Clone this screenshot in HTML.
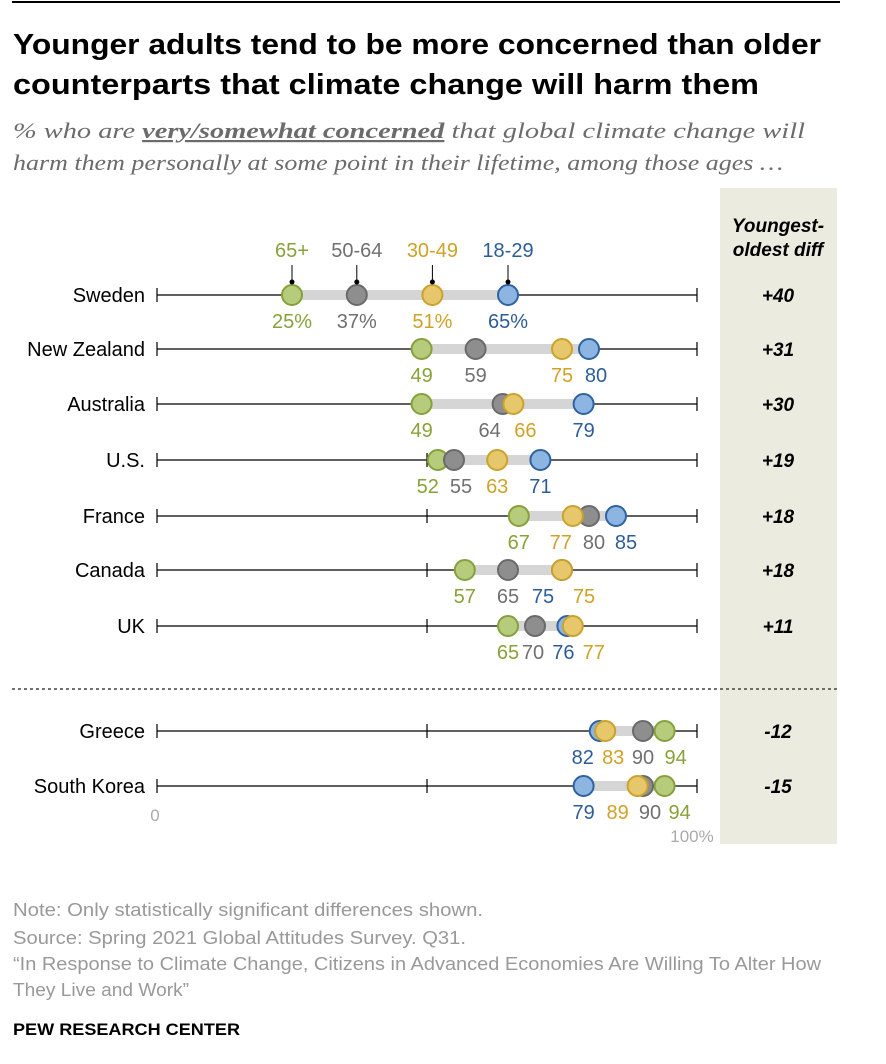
<!DOCTYPE html>
<html><head><meta charset="utf-8"><style>
body{margin:0;background:#fff;}
svg{display:block;font-family:"Liberation Sans",sans-serif;}
</style></head><body>
<svg id="chart" width="886" height="1064" viewBox="0 0 886 1064" xmlns="http://www.w3.org/2000/svg">
<line x1="12" y1="2" x2="840" y2="2" stroke="#000" stroke-width="2"/>
<text x="13" y="54" font-size="29" font-weight="bold" textLength="808" lengthAdjust="spacingAndGlyphs">Younger adults tend to be more concerned than older</text>
<text x="13" y="94" font-size="29" font-weight="bold" textLength="746" lengthAdjust="spacingAndGlyphs">counterparts that climate change will harm them</text>
<text x="13" y="138" font-size="22" font-style="italic" fill="#6b6b6b" font-family="Liberation Serif, serif" textLength="792" lengthAdjust="spacingAndGlyphs">% who are <tspan font-weight="bold" text-decoration="underline">very/somewhat concerned</tspan> that global climate change will</text>
<text x="13" y="170" font-size="22" font-style="italic" fill="#6b6b6b" font-family="Liberation Serif, serif" textLength="770" lengthAdjust="spacingAndGlyphs">harm them personally at some point in their lifetime, among those ages …</text>
<rect x="720" y="188" width="117" height="656" fill="#ecebe0"/>
<text x="778" y="232" font-size="19" font-weight="bold" font-style="italic" text-anchor="middle">Youngest-</text>
<text x="778" y="256" font-size="19" font-weight="bold" font-style="italic" text-anchor="middle">oldest diff</text>
<line x1="12" y1="689" x2="840" y2="689" stroke="#444" stroke-width="1.5" stroke-dasharray="3,3"/>
<text x="155" y="821" font-size="17" fill="#aaa" text-anchor="middle">0</text>
<text x="692" y="842" font-size="17" fill="#aaa" text-anchor="middle">100%</text>
<text x="13" y="916" font-size="18" fill="#999" textLength="470" lengthAdjust="spacingAndGlyphs">Note: Only statistically significant differences shown.</text>
<text x="13" y="944" font-size="18" fill="#999" textLength="453" lengthAdjust="spacingAndGlyphs">Source: Spring 2021 Global Attitudes Survey. Q31.</text>
<text x="13" y="970" font-size="18" fill="#999" textLength="808" lengthAdjust="spacingAndGlyphs">“In Response to Climate Change, Citizens in Advanced Economies Are Willing To Alter How</text>
<text x="13" y="996" font-size="18" fill="#999" textLength="176" lengthAdjust="spacingAndGlyphs">They Live and Work”</text>
<text x="13" y="1035" font-size="17" font-weight="bold" textLength="227" lengthAdjust="spacingAndGlyphs">PEW RESEARCH CENTER</text>
<g id="rows"></g>
</svg>
<script>
const countries=["Sweden","New Zealand","Australia","U.S.","France","Canada","UK","Greece","South Korea"];
const age65=[25,49,49,52,67,57,65,94,94];
const age5064=[37,59,64,55,80,65,70,90,90];
const age3049=[51,75,66,63,77,75,77,83,89];
const age1829=[65,80,79,71,85,75,76,82,79];
const diffs=["+40","+31","+30","+19","+18","+18","+11","-12","-15"];
const ageLabels=["65+","50-64","30-49","18-29"];
// label nudges (style only), order: 65+, 50-64, 30-49, 18-29
const nudge=[[0,0,0,0],[0,0,0,7],[0,-13,12,0],[-10,7,0,0],[0,5,-12,10],[0,0,22,-19],[0,-2,21,-4],[11,0,8,-17],[15,7,-20,0]];
const rowY=[295,349,404,460,516,570,626,731,786];
const x=v=>157+v*5.4;
const series=[
 {vals:age65,fill:"#b6cc7c",stroke:"#86a03a",text:"#88a23a",name:"65-plus"},
 {vals:age1829,fill:"#8db5e2",stroke:"#2f62a0",text:"#2d5d98",name:"18-29"},
 {vals:age5064,fill:"#8e8e8e",stroke:"#6a6a6a",text:"#707070",name:"50-64"},
 {vals:age3049,fill:"#e6c76c",stroke:"#caa22c",text:"#cfa227",name:"30-49"}];
const labelOrder=[0,3,1,2];
const g=document.getElementById('rows');
const NS="http://www.w3.org/2000/svg";
function mk(t,a,p){const e=document.createElementNS(NS,t);for(const k in a)e.setAttribute(k,a[k]);(p||g).appendChild(e);return e;}
countries.forEach((c,i)=>{
 const y=rowY[i];
 const row=mk('g',{});
 
 
 const lab=mk('text',{x:145,y:y+7,'font-size':20,'text-anchor':'end'},row);lab.textContent=c;
 
 
 const ax=mk('line',{x1:x(0),y1:y,x2:x(100),y2:y,stroke:'#000','stroke-width':1.2},row);
 
 
 [0,50,100].forEach(t=>{const tk=mk('line',{x1:x(t),y1:y-7,x2:x(t),y2:y+7,stroke:'#000','stroke-width':1.2},row);
  
  });
 const all=series.map(s=>s.vals[i]);
 const seg=mk('line',{x1:x(Math.min(...all)),y1:y,x2:x(Math.max(...all)),y2:y,stroke:'#d5d5d5','stroke-width':10},row);
 
 
 series.forEach((s,si)=>{
  const d=mk('circle',{cx:x(s.vals[i]),cy:y,r:10,fill:s.fill,stroke:s.stroke,'stroke-width':2},row);
  
  
 });
 series.forEach((s,si)=>{
  const o=labelOrder[si];
  const t=mk('text',{x:x(s.vals[i])+nudge[i][o],y:y+33,'font-size':20,fill:s.text,'text-anchor':'middle'},row);
  t.textContent=s.vals[i]+(i===0?'%':'');
  
  
 });
 const df=mk('text',{x:778,y:y+7,'font-size':19,'font-weight':'bold','font-style':'italic','text-anchor':'middle'},row);
 df.textContent=diffs[i];
 
 
});
const legS=[series[0],series[2],series[3],series[1]];
legS.forEach((s,k)=>{
 const vx=x(s.vals[0]);
 const t=mk('text',{x:vx,y:257,'font-size':20,fill:s.text,'text-anchor':'middle'});
 t.textContent=ageLabels[k];
 
 
 const l=mk('line',{x1:vx,y1:265,x2:vx,y2:283,stroke:'#000','stroke-width':1});
 
 
 const c=mk('circle',{cx:vx,cy:282,r:2.5,fill:'#000'});
 
 
});
</script>
</body></html>
